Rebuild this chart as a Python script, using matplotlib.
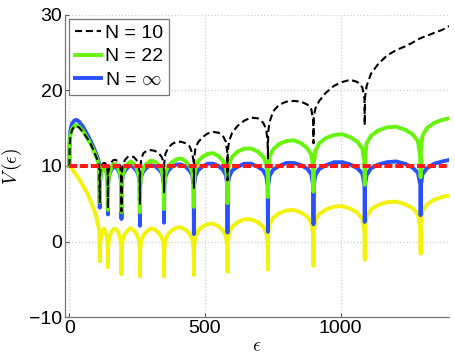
import matplotlib
matplotlib.use("Agg")
import matplotlib.pyplot as plt
from matplotlib.lines import Line2D

plt.rcParams['font.family'] = ['Liberation Sans', 'DejaVu Sans']
plt.rcParams['mathtext.fontset'] = 'cm'

# shared energy grid (dips at 112,142,192,260,349,459,583,732,900,1089,1295)
eps = [0, 1, 4, 10, 18, 25, 35, 50, 67, 80, 91, 100, 106, 110,
       112,
       113, 117, 123, 127, 131, 137, 141,
       142,
       143, 147, 155, 163, 171, 179, 187, 191,
       192,
       193, 197, 205, 215, 226, 237, 247, 255, 259,
       260,
       261, 265, 273, 285, 300, 315, 329, 340, 345, 348,
       349,
       350, 354, 363, 378, 395, 412, 429, 443, 453, 458,
       459,
       460, 464, 474, 490, 510, 530, 550, 566, 577, 582,
       583,
       584, 589, 600, 620, 645, 670, 695, 715, 726, 731,
       732,
       733, 738, 751, 773, 800, 828, 855, 878, 892, 899,
       900,
       901, 907, 921, 946, 976, 1006, 1036, 1062, 1080, 1088,
       1089,
       1090, 1096, 1112, 1139, 1171, 1204, 1237, 1265, 1285, 1294,
       1295,
       1296, 1302, 1318, 1345, 1375, 1400]

v_inf = [10, 13.5, 14.8, 15.6, 16.0, 16.1, 15.9, 15.2, 14.1, 13.2, 12.3, 11.5, 10.9, 10.2,
         4.5,
         8.1, 9.2, 9.8, 10.0, 9.8, 9.2, 8.1,
         3.6,
         7.8, 8.9, 9.5, 9.9, 9.9, 9.5, 8.9, 7.8,
         3.0,
         7.6, 8.8, 9.4, 9.8, 10.1, 9.8, 9.4, 8.8, 7.6,
         2.1,
         7.6, 8.7, 9.3, 9.8, 10.1, 10.0, 9.6, 9.1, 8.5, 7.6,
         2.5,
         7.5, 8.6, 9.3, 9.9, 10.2, 10.2, 9.9, 9.4, 8.8, 7.5,
         1.0,
         7.5, 8.6, 9.4, 9.9, 10.3, 10.3, 10.0, 9.5, 8.8, 7.5,
         1.2,
         7.4, 8.6, 9.4, 9.9, 10.3, 10.3, 9.9, 9.4, 8.6, 7.4,
         1.3,
         7.4, 8.7, 9.5, 10.0, 10.4, 10.4, 10.1, 9.6, 8.9, 7.4,
         2.3,
         7.4, 8.8, 9.6, 10.1, 10.5, 10.5, 10.2, 9.7, 9.0, 7.4,
         2.6,
         7.5, 8.8, 9.7, 10.2, 10.5, 10.6, 10.3, 9.8, 9.1, 7.5,
         3.5,
         7.5, 8.9, 9.7, 10.3, 10.6, 10.8]

v_22 = [10, 13.0, 14.2, 14.9, 15.3, 15.4, 15.2, 14.6, 13.6, 12.8, 11.9, 11.1, 10.5, 9.9,
        5.2,
        7.8, 9.2, 9.9, 10.2, 9.9, 9.2, 7.8,
        4.2,
        7.6, 9.0, 9.8, 10.25, 10.25, 9.8, 9.0, 7.6,
        3.9,
        7.5, 8.9, 9.8, 10.3, 10.6, 10.3, 9.8, 8.9, 7.5,
        3.9,
        7.5, 8.9, 9.7, 10.3, 10.7, 10.6, 10.1, 9.4, 8.7, 7.5,
        4.3,
        7.6, 9.0, 9.9, 10.5, 10.9, 11.0, 10.6, 10.0, 9.2, 7.6,
        4.6,
        8.2, 9.6, 10.6, 11.2, 11.6, 11.7, 11.3, 10.7, 9.8, 8.2,
        5.1,
        8.8, 10.3, 11.2, 11.9, 12.3, 12.3, 11.9, 11.2, 10.3, 8.8,
        5.9,
        9.6, 11.2, 12.2, 12.9, 13.3, 13.4, 13.0, 12.3, 11.5, 9.6,
        6.6,
        10.3, 12.0, 13.0, 13.7, 14.1, 14.2, 13.8, 13.2, 12.3, 10.3,
        7.5,
        11.2, 13.0, 14.0, 14.7, 15.1, 15.2, 14.8, 14.2, 13.3, 11.2,
        8.5,
        12.2, 14.0, 15.0, 15.7, 16.1, 16.3]

v_10 = [10, 12.8, 14.0, 14.8, 15.2, 15.3, 15.1, 14.5, 13.6, 12.8, 11.9, 11.1, 10.5, 10.0,
        5.2,
        9.0, 9.9, 10.3, 10.4, 10.4, 10.1, 9.2,
        4.4,
        9.0, 10.0, 10.5, 10.8, 10.8, 10.6, 10.0, 9.0,
        4.0,
        9.0, 10.2, 10.8, 11.2, 11.3, 11.2, 10.8, 10.2, 9.0,
        5.0,
        9.5, 11.0, 11.7, 12.0, 12.1, 12.0, 11.7, 11.2, 10.7, 9.8,
        6.5,
        10.5, 11.6, 12.3, 12.9, 13.2, 13.2, 13.0, 12.6, 11.7, 10.5,
        7.1,
        10.8, 12.2, 13.1, 13.8, 14.3, 14.5, 14.4, 14.0, 13.2, 11.8,
        8.1,
        12.0, 13.3, 14.4, 15.3, 16.0, 16.4, 16.3, 15.7, 14.8, 13.0,
        11.0,
        14.5, 15.8, 17.2, 18.1, 18.5, 18.6, 18.5, 18.1, 17.5, 16.0,
        13.0,
        16.5, 17.6, 18.6, 19.7, 20.6, 21.1, 21.4, 21.1, 20.4, 19.0,
        15.4,
        19.0, 20.6, 22.2, 23.5, 24.6, 25.3, 25.8, 26.3, 26.7, 26.9,
        26.9,
        26.9, 27.0, 27.2, 27.6, 28.0, 28.5]

v_low = [10, 9.97, 9.85, 9.6, 9.2, 8.8, 8.3, 7.4, 6.3, 5.2, 4.2, 3.1, 2.2, 1.4,
         -2.6,
         -0.4, 0.85, 1.46, 1.7, 1.46, 0.85, -0.4,
         -3.4,
         -0.7, 0.56, 1.3, 1.67, 1.67, 1.3, 0.56, -0.7,
         -4.3,
         -0.9, 0.33, 1.06, 1.5, 1.8, 1.5, 1.06, 0.33, -0.9,
         -4.6,
         -1.1, 0.12, 0.85, 1.36, 1.72, 1.59, 1.18, 0.57, -0.06, -1.1,
         -4.6,
         -1.1, 0.15, 0.94, 1.5, 1.86, 1.88, 1.53, 1.04, 0.3, -1.1,
         -4.4,
         -0.7, 0.55, 1.41, 1.96, 2.35, 2.38, 2.02, 1.5, 0.7, -0.7,
         -4.0,
         -0.2, 1.15, 1.96, 2.56, 2.96, 2.96, 2.56, 1.96, 1.15, -0.2,
         -3.7,
         0.9, 2.3, 3.14, 3.75, 4.13, 4.18, 3.82, 3.27, 2.5, 0.9,
         -3.2,
         1.3, 2.8, 3.64, 4.25, 4.63, 4.7, 4.35, 3.83, 3.0, 1.3,
         -2.4,
         1.8, 3.33, 4.24, 4.85, 5.22, 5.3, 4.96, 4.45, 3.62, 1.8,
         -1.6,
         2.5, 4.0, 4.9, 5.55, 5.9, 6.1]

ref_x = [0, 1400]
ref_y = [10, 10]

labels = ['N = 10', 'N = 22', r'N = $\infty$']
xticks = [0, 500, 1000]
yticks = [-10, 0, 10, 20, 30]

c_black = 'black'
c_green = '#66f50a'
c_blue = '#2850ff'
c_yellow = '#f2f20a'
c_red = '#ff1a1a'

fig = plt.figure(figsize=(4.55, 3.54), dpi=100)
ax = fig.add_axes([0.143, 0.1037, 0.844, 0.8548])

ax.plot(eps, v_low, color=c_yellow, lw=2.8, zorder=2, solid_joinstyle='round')
ax.plot(eps, v_inf, color=c_blue, lw=2.8, zorder=3, solid_joinstyle='round')
ax.plot(eps, v_22, color=c_green, lw=2.8, zorder=4, solid_joinstyle='round')
ax.plot(eps, v_10, color=c_black, lw=1.5, zorder=5, dashes=(3.4, 1.8))
ax.plot(ref_x, ref_y, color=c_red, lw=2.9, zorder=6, dashes=(2.0, 0.7))

ax.set_xlim(-16, 1400)
ax.set_ylim(-10, 30)
ax.set_xticks(xticks)
ax.set_yticks(yticks)
ax.set_xticklabels([str(t) for t in xticks])
ax.set_yticklabels(['\u221210' if t < 0 else str(t) for t in yticks])
ax.tick_params(direction='in', length=3, width=0.8, color='#555555',
               labelsize=14, pad=2)
ax.grid(True, color='#d0d0d0', linestyle=':', linewidth=0.9)
ax.set_axisbelow(True)
for s in ['top', 'right']:
    ax.spines[s].set_visible(False)
for s in ['left', 'bottom']:
    ax.spines[s].set_color('#777777')
    ax.spines[s].set_linewidth(0.9)

ax.set_ylabel(r'$V\,(\epsilon)$', fontsize=14)
ax.yaxis.set_label_coords(-0.108, 0.5)
ax.set_xlabel(r'$\epsilon$', fontsize=14)
ax.xaxis.set_label_coords(0.5, -0.07)

handles = [Line2D([], [], color=c_black, lw=1.5, dashes=(3.4, 1.8)),
           Line2D([], [], color=c_green, lw=2.8),
           Line2D([], [], color=c_blue, lw=2.8)]
leg = ax.legend(handles, labels, loc='upper left', fontsize=14,
                frameon=True, fancybox=False, framealpha=1,
                edgecolor='#777777', handlelength=1.35, handletextpad=0.2,
                labelspacing=0.3, borderpad=0.3, borderaxespad=0.2)
leg.get_frame().set_linewidth(0.9)
leg.set_zorder(10)

fig.savefig('out.png', dpi=100)
